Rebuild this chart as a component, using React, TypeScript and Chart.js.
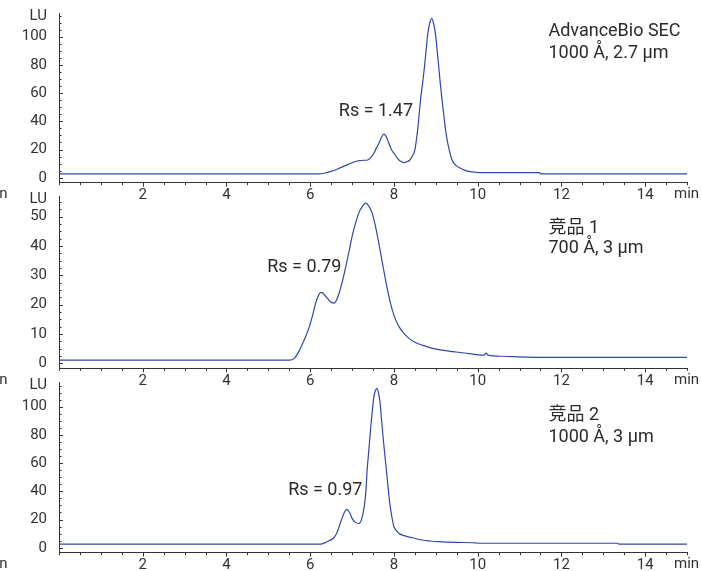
import React, { useEffect, useRef } from 'react';
import { Chart, registerables } from 'chart.js';

Chart.register(...registerables);

const FONT = "Roboto, 'Noto Sans CJK SC', sans-serif";
const TRACE_COLOR = '#3047a8';
const AXIS_COLOR = '#333333';
const TEXT_COLOR = '#2a2a2a';

// x axis (min)
const xTickLabels = [2, 4, 6, 8, 10, 12, 14];

// Panel A: AdvanceBio SEC
const timesA = [0, 6.2, 6.33, 6.5, 6.69, 6.85, 6.97, 7.08, 7.17, 7.28, 7.37, 7.45, 7.52, 7.58, 7.64, 7.7, 7.76, 7.82, 7.88, 7.94, 8.0, 8.06, 8.12, 8.18, 8.24, 8.31, 8.38, 8.44, 8.5, 8.57, 8.635, 8.68, 8.73, 8.77, 8.81, 8.85, 8.9, 8.95, 8.99, 9.03, 9.07, 9.11, 9.15, 9.2, 9.245, 9.3, 9.39, 9.48, 9.59, 9.7, 9.83, 9.95, 10.06, 11.48, 11.5, 15];
const valuesA = [2.7, 2.7, 3.2, 4.5, 6.7, 8.8, 10.3, 11.5, 12.1, 12.4, 12.6, 14.5, 17.4, 21, 24.4, 28.5, 31, 29, 24.4, 20, 17.4, 14.8, 12.6, 11.3, 10.7, 11.3, 12.6, 15.5, 19.7, 35, 55.1, 66, 78.7, 91, 102.4, 109, 113, 109, 102.4, 91, 78.7, 66, 55.1, 42, 31.5, 22.5, 12.6, 8.8, 6.7, 5.2, 4.3, 3.9, 3.6, 3.6, 2.8, 2.8];
const yTicksA = [0, 20, 40, 60, 80, 100];

// Panel B: 竞品 1
const timesB = [0, 5.5, 5.62, 5.72, 5.82, 5.9, 5.98, 6.06, 6.13, 6.2, 6.25, 6.3, 6.35, 6.41, 6.49, 6.57, 6.63, 6.69, 6.77, 6.85, 6.93, 7.0, 7.08, 7.16, 7.25, 7.33, 7.4, 7.48, 7.56, 7.64, 7.72, 7.8, 7.88, 7.96, 8.04, 8.12, 8.24, 8.36, 8.5, 8.67, 8.9, 9.15, 9.4, 9.63, 9.85, 10.1, 10.15, 10.2, 10.25, 10.6, 11.2, 12, 15];
const valuesB = [1.1, 1.1, 1.7, 3.8, 6.8, 9.4, 12.5, 16.5, 20.5, 23.2, 24.2, 24.0, 23.2, 22.2, 20.9, 20.5, 21.6, 23.9, 28, 33, 38.3, 43.2, 47.6, 51.2, 53.6, 54.6, 53.6, 51.2, 46.6, 40.9, 34.5, 28.4, 22.8, 18.2, 14.9, 12.5, 10.2, 8.5, 7.2, 6.2, 5.2, 4.5, 4.0, 3.6, 3.2, 2.8, 2.8, 3.5, 2.8, 2.4, 2.1, 2.0, 2.0];
const yTicksB = [0, 10, 20, 30, 40, 50];

// Panel C: 竞品 2
const timesC = [0, 6.25, 6.35, 6.45, 6.55, 6.61, 6.67, 6.73, 6.8, 6.87, 6.94, 7.0, 7.08, 7.17, 7.23, 7.29, 7.33, 7.36, 7.4, 7.44, 7.48, 7.52, 7.56, 7.59, 7.63, 7.67, 7.7, 7.74, 7.78, 7.82, 7.86, 7.9, 7.95, 8.0, 8.08, 8.16, 8.3, 8.44, 8.67, 8.87, 9.07, 9.5, 9.94, 10.02, 13.35, 13.37, 15];
const valuesC = [2.6, 2.6, 3.5, 5, 6.6, 9, 13, 18.4, 24, 27.2, 25, 20.8, 18, 17.3, 20.5, 29.1, 40, 55.1, 69, 83.5, 96, 107, 111.5, 113, 110, 102.4, 92, 78.7, 66.5, 55.1, 43, 31.5, 22, 14.9, 11.5, 9.5, 8.1, 7.1, 5.5, 4.8, 4.3, 3.8, 3.5, 3.2, 3.2, 2.6, 2.6];
const yTicksC = [0, 20, 40, 60, 80, 100];

const namesA = ['AdvanceBio SEC', '1000 Å, 2.7 µm'];
const namesB = ['竞品 1', '700 Å, 3 µm'];
const namesC = ['竞品 2', '1000 Å, 3 µm'];
const rsA = 'Rs = 1.47';
const rsB = 'Rs = 0.79';
const rsC = 'Rs = 0.97';

type Panel = {
  top: number;
  height: number;
  areaTop: number;
  areaBottom: number;
  times: number[];
  values: number[];
  yMin: number;
  yMax: number;
  yTicks: number[];
  yMinor: number;
  rs: string;
  rsAt: [number, number];
  names: string[];
  namesAt: [number, number, number];
};

const X_AXIS_H = 18;

const panels: Panel[] = [
  { top: 0, height: 210, areaTop: 13, areaBottom: 182.7, times: timesA, values: valuesA, yMin: -3.5, yMax: 116.8, yTicks: yTicksA, yMinor: 5, rs: rsA, rsAt: [7.57, 46.8], names: namesA, namesAt: [11.69, 104, 88.2] },
  { top: 180, height: 215, areaTop: 196.7, areaBottom: 368.3, times: timesB, values: valuesB, yMin: -1.7, yMax: 56.8, yTicks: yTicksB, yMinor: 2.5, rs: rsB, rsAt: [5.86, 32.7], names: namesB, namesAt: [11.69, 46.1, 39.0] },
  { top: 365, height: 206, areaTop: 382.7, areaBottom: 552.7, times: timesC, values: valuesC, yMin: -3.5, yMax: 117, yTicks: yTicksC, yMinor: 5, rs: rsC, rsAt: [6.36, 40.4], names: namesC, namesAt: [11.69, 94.1, 78.3] },
];

function PanelChart({ p }: { p: Panel }) {
  const ref = useRef<HTMLCanvasElement | null>(null);
  useEffect(() => {
    const canvas = ref.current;
    if (!canvas) return;
    const padTop = p.areaTop - p.top;
    const padBottom = p.height - (p.areaBottom - p.top) - X_AXIS_H;
    const decor = {
      id: 'decor',
      afterDraw(chart: any) {
        const ctx = chart.ctx;
        const xs = chart.scales.x;
        const ys = chart.scales.y;
        const area = chart.chartArea;
        ctx.save();
        ctx.strokeStyle = AXIS_COLOR;
        ctx.lineWidth = 1;
        ctx.beginPath();
        for (let v = 0; v <= 15.0001; v += 0.5) {
          const px = Math.round(xs.getPixelForValue(v)) + 0.5;
          const major = Math.abs(v / 2 - Math.round(v / 2)) < 1e-6 && v > 0;
          ctx.moveTo(px, area.bottom);
          ctx.lineTo(px, area.bottom + (major ? 4 : 2.5));
        }
        const start = Math.ceil(p.yMin / p.yMinor) * p.yMinor;
        for (let v = start; v <= p.yMax; v += p.yMinor) {
          const py = Math.round(ys.getPixelForValue(v)) + 0.5;
          const major = p.yTicks.includes(v);
          ctx.moveTo(area.left, py);
          ctx.lineTo(area.left + (major ? 4 : 2.5), py);
        }
        ctx.stroke();

        ctx.fillStyle = AXIS_COLOR;
        ctx.font = `15px ${FONT}`;
        ctx.textBaseline = 'middle';
        ctx.textAlign = 'right';
        ctx.fillText('LU', area.left - 12, area.top + 3);
        const labY = area.bottom + 12;
        ctx.textAlign = 'left';
        ctx.fillText('min', area.right - 13, labY);
        ctx.textAlign = 'right';
        ctx.fillText('min', 7.5, labY);

        ctx.fillStyle = TEXT_COLOR;
        ctx.font = `18px ${FONT}`;
        ctx.textAlign = 'center';
        ctx.fillText(p.rs, xs.getPixelForValue(p.rsAt[0]), ys.getPixelForValue(p.rsAt[1]));
        ctx.textAlign = 'left';
        const nx = xs.getPixelForValue(p.namesAt[0]);
        ctx.fillText(p.names[0], nx, ys.getPixelForValue(p.namesAt[1]));
        ctx.fillText(p.names[1], nx, ys.getPixelForValue(p.namesAt[2]));
        ctx.restore();
      },
    };
    const chart = new Chart(canvas, {
      type: 'line',
      data: {
        datasets: [
          {
            data: p.times.map((t, i) => ({ x: t, y: p.values[i] })),
            borderColor: TRACE_COLOR,
            borderWidth: 1.2,
            pointRadius: 0,
            fill: false,
            cubicInterpolationMode: 'monotone',
          },
        ],
      },
      options: {
        animation: false,
        responsive: false,
        devicePixelRatio: 1,
        layout: { padding: { left: 0, right: 15, top: padTop, bottom: padBottom } },
        plugins: { legend: { display: false }, tooltip: { enabled: false } },
        scales: {
          x: {
            type: 'linear',
            min: 0,
            max: 15,
            afterBuildTicks: (s: any) => {
              s.ticks = xTickLabels.map((v) => ({ value: v }));
            },
            afterFit: (s: any) => {
              s.height = X_AXIS_H;
              s.paddingLeft = 0;
              s.paddingRight = 0;
              s.paddingTop = 0;
              s.paddingBottom = 0;
            },
            grid: { display: false, drawTicks: false },
            border: { display: true, color: AXIS_COLOR, width: 1 },
            ticks: { color: AXIS_COLOR, font: { family: FONT, size: 15 }, padding: 4, maxRotation: 0, autoSkip: false },
          },
          y: {
            type: 'linear',
            min: p.yMin,
            max: p.yMax,
            afterBuildTicks: (s: any) => {
              s.ticks = p.yTicks.map((v) => ({ value: v }));
            },
            afterFit: (s: any) => {
              s.width = 59;
              s.paddingLeft = 0;
              s.paddingRight = 0;
              s.paddingTop = 0;
              s.paddingBottom = 0;
            },
            grid: { display: false, drawTicks: false },
            border: { display: true, color: AXIS_COLOR, width: 1 },
            ticks: { color: AXIS_COLOR, font: { family: FONT, size: 15 }, padding: 12 },
          },
        },
      },
      plugins: [decor],
    } as any);
    return () => chart.destroy();
  }, [p]);
  return (
    <canvas
      ref={ref}
      width={702}
      height={p.height}
      style={{ position: 'absolute', left: 0, top: p.top, width: 702, height: p.height, display: 'block' }}
    />
  );
}

export default function App() {
  return (
    <div style={{ position: 'absolute', left: 0, top: 0, width: 702, height: 571, background: '#ffffff', overflow: 'hidden' }}>
      {panels.map((p, i) => (
        <PanelChart key={i} p={p} />
      ))}
    </div>
  );
}
